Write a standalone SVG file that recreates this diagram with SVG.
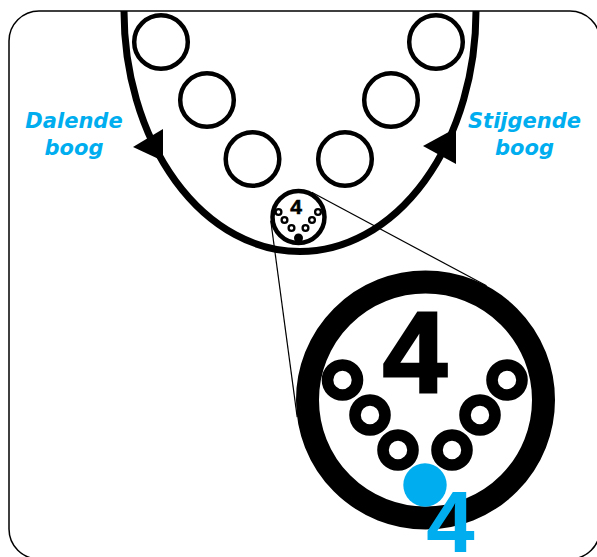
<svg xmlns="http://www.w3.org/2000/svg" width="597" height="557" viewBox="0 0 597 557">
  <style>
    .ring{fill:none;stroke:#000;stroke-width:4.5}
    .lbl{font-family:"DejaVu Sans","Liberation Sans",sans-serif;font-weight:bold;font-style:italic;font-size:21px;fill:#00AEEF;text-anchor:middle}
    .num{font-family:"Liberation Sans",Arial,sans-serif;font-weight:bold;text-anchor:middle}
    .mring{fill:#fff;stroke:#000;stroke-width:11.6}
    .sring{fill:#fff;stroke:#000;stroke-width:2.3}
    .guide{stroke:#000;stroke-width:1.2;fill:none}
  </style>
  <rect x="0" y="0" width="597" height="557" fill="#fff"/>
  <rect id="frame" x="9" y="11" width="591" height="548" rx="30" ry="30" fill="#fff" stroke="#000" stroke-width="1.5"/>

  <g id="arc">
    <path d="M124,11 A176,240.5 0 0 0 476,11" fill="none" stroke="#000" stroke-width="7"/>
    <polygon points="133,147 163,129 163,161" fill="#000"/>
    <polygon points="423,146 456,128 456,164" fill="#000"/>
  </g>

  <g id="balls">
    <circle class="ring" cx="161" cy="42" r="26.8"/>
    <circle class="ring" cx="207" cy="100" r="26.8"/>
    <circle class="ring" cx="252.5" cy="159" r="26.8"/>
    <circle class="ring" cx="436" cy="42" r="26.8"/>
    <circle class="ring" cx="391" cy="100" r="26.8"/>
    <circle class="ring" cx="345" cy="159" r="26.8"/>
  </g>

  <g id="connectors">
    <line class="guide" x1="270.75" y1="220.7" x2="297.2" y2="417.2"/>
    <line class="guide" x1="311.7" y1="192.3" x2="486.5" y2="285.8"/>
  </g>

  <g id="small-detail">
    <circle cx="298.5" cy="217" r="26" fill="#fff" stroke="#000" stroke-width="4.5"/>
    <text class="num" x="296" y="213.5" font-size="21" stroke="#000" stroke-width="0.6">4</text>
    <circle class="sring" cx="278.5" cy="212" r="2.9"/>
    <circle class="sring" cx="284.5" cy="220" r="2.9"/>
    <circle class="sring" cx="291.5" cy="228" r="2.9"/>
    <circle class="sring" cx="305.5" cy="228" r="2.9"/>
    <circle class="sring" cx="312" cy="220" r="2.9"/>
    <circle class="sring" cx="318" cy="212" r="2.9"/>
    <circle cx="298.5" cy="238" r="4.5" fill="#000"/>
  </g>

  <g id="magnified">
    <circle cx="425.5" cy="400" r="118" fill="#fff" stroke="#000" stroke-width="23"/>
    <text class="num" x="415" y="392" font-size="115" stroke="#000" stroke-width="3">4</text>
    <circle class="mring" cx="342.5" cy="380" r="15"/>
    <circle class="mring" cx="370" cy="415" r="15"/>
    <circle class="mring" cx="398" cy="450" r="15"/>
    <circle class="mring" cx="452" cy="450" r="15"/>
    <circle class="mring" cx="480" cy="415" r="15"/>
    <circle class="mring" cx="507" cy="380" r="15"/>
    <circle cx="425" cy="485" r="21.7" fill="#00AEEF"/>
    <text class="num" x="450.5" y="552" font-size="87" fill="#00AEEF">4</text>
  </g>

  <g id="label-dalende">
    <text class="lbl" x="74" y="128">Dalende</text>
    <text class="lbl" x="74" y="155">boog</text>
  </g>
  <g id="label-stijgende">
    <text class="lbl" x="524.5" y="128">Stijgende</text>
    <text class="lbl" x="524.5" y="155">boog</text>
  </g>
</svg>
